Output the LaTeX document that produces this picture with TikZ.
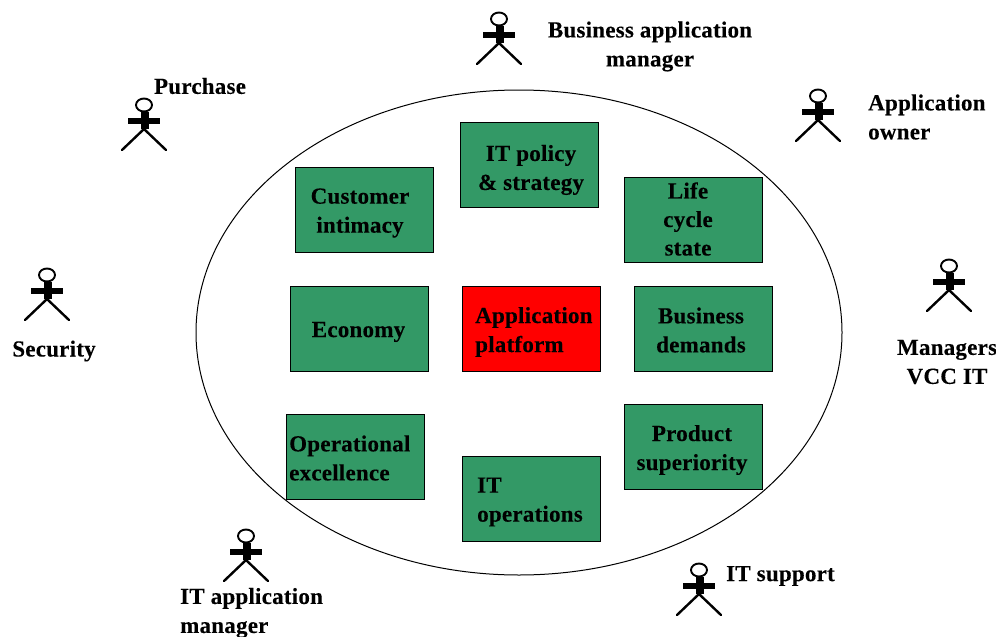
\documentclass[tikz,border=0pt]{standalone}
\usepackage{fontspec}
\setmainfont{Liberation Serif}[LetterSpace=1,BoldFont={Liberation Serif Bold},BoldFeatures={FakeBold=0.15}]
\usetikzlibrary{shapes.geometric}
\definecolor{boxgreen}{HTML}{339966}
\tikzset{x=1pt,y=-1pt,
  txt/.style={font=\fontsize{23}{29}\selectfont\bfseries,text=black},
  lab/.style={txt,inner sep=0pt,align=center},
  labl/.style={txt,inner sep=0pt,align=left},
  greenbox/.style={draw=black,line width=1pt,fill=boxgreen,minimum width=138pt,minimum height=85pt,inner sep=0pt},
  redbox/.style={greenbox,fill=red},
  actorline/.style={line width=2.4pt,draw=black,line cap=round},
  pics/actor/.style={code={
    \draw[line width=1.9pt] (0,0) ellipse [x radius=8,y radius=6.5];
    \fill[black] (-16,12.5) rectangle (16,19);
    \fill[black] (-3,7) rectangle (5,24);
    \draw[actorline] (0,24) -- (-22,45);
    \draw[actorline] (0,24) -- (22,45);
  }}}
\begin{document}
\begin{tikzpicture}
\useasboundingbox (0,0) rectangle (996,637);
\node[ellipse,draw=black,line width=1pt,minimum width=646pt,minimum height=485pt,inner sep=0pt] (scope) at (519,332.5) {};
\node[greenbox] (policy) at (529,164.5) {};
\node[greenbox] (customer) at (364.5,210) {};
\node[greenbox] (life) at (693.5,219.5) {};
\node[greenbox] (economy) at (359.3,328.5) {};
\node[redbox] (platform) at (531.7,328.5) {};
\node[greenbox] (demands) at (703.7,328.5) {};
\node[greenbox] (operational) at (355.7,456.5) {};
\node[greenbox] (operations) at (531.7,498.5) {};
\node[greenbox] (product) at (693.5,447) {};
\node[lab] (tpolicy) at (531,170) {IT policy\\\& strategy};
\node[lab] (tcustomer) at (360,213) {Customer\\intimacy};
\node[lab,font=\fontsize{23}{28.5}\selectfont\bfseries] (tlife) at (688,219) {Life\\cycle\\state};
\node[lab] (teconomy) at (358.5,332) {Economy};
\node[labl,anchor=west] (tplatform) at (475,332) {Application\\platform};
\node[lab] (tdemands) at (701,330) {Business\\demands};
\node[labl,anchor=west] (toperational) at (289,458) {Operational\\excellence};
\node[labl,anchor=west] (toperations) at (477,502) {IT\\operations};
\node[lab] (tproduct) at (692,450) {Product\\superiority};
\pic at (499,19) {actor};
\pic at (144,105) {actor};
\pic at (818,96) {actor};
\pic at (47,275) {actor};
\pic at (949,266) {actor};
\pic at (699,570) {actor};
\pic at (246,536) {actor};
\node[lab] (lbusiness) at (650,46.5) {Business application\\manager};
\node[lab] (lpurchase) at (200,86) {Purchase};
\node[labl,anchor=west] (lowner) at (868,117) {Application\\owner};
\node[lab] (lsecurity) at (54,351) {Security};
\node[lab] (lmanagers) at (947,362) {Managers\\VCC IT};
\node[lab] (lsupport) at (780.5,576) {IT support};
\node[labl,anchor=west] (lmanager) at (180,613) {IT application\\manager};
\end{tikzpicture}
\end{document}
